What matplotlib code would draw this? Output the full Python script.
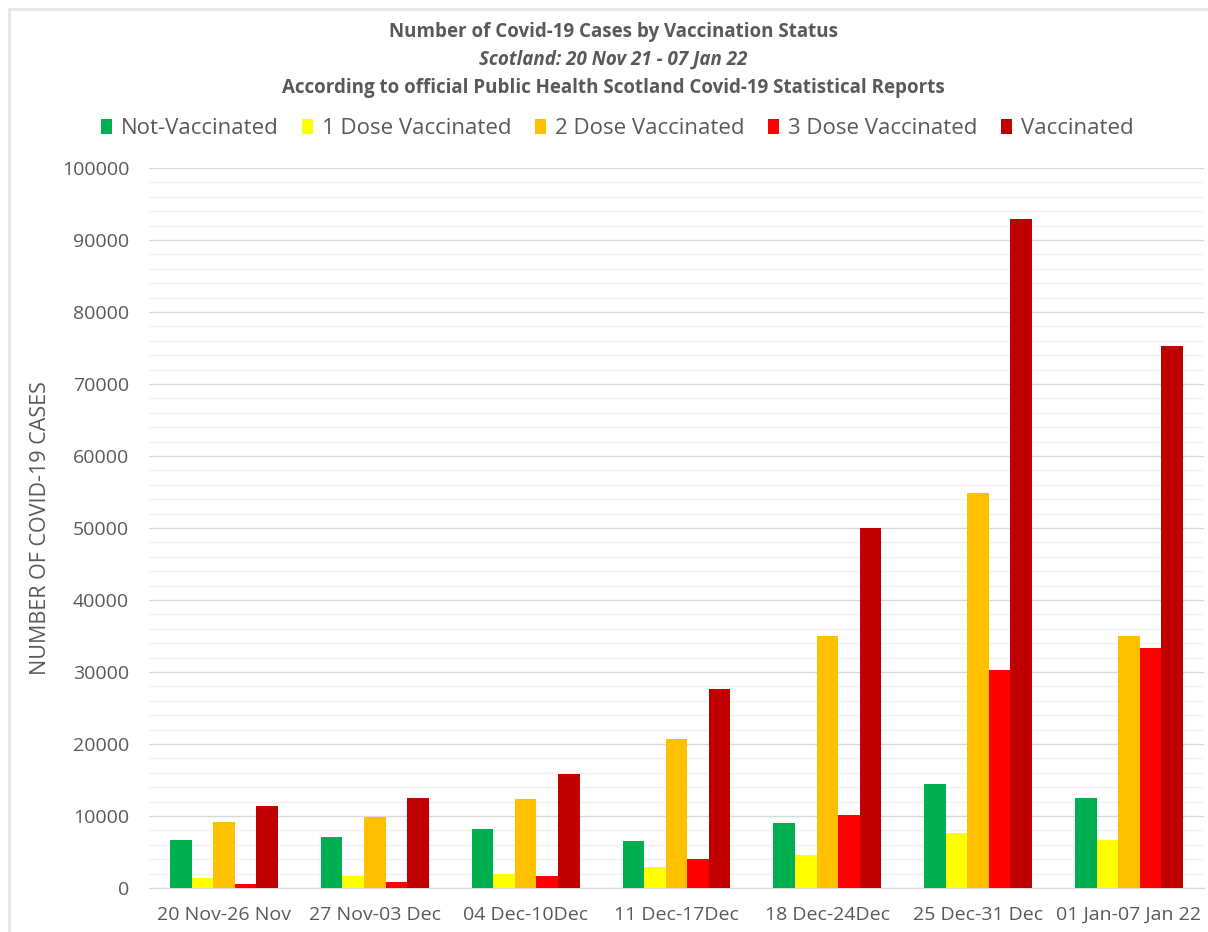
import numpy as np
import matplotlib.pyplot as plt
from matplotlib.ticker import MultipleLocator
from matplotlib.lines import Line2D

weeks = ['20 Nov-26 Nov', '27 Nov-03 Dec', '04 Dec-10Dec', '11 Dec-17Dec',
         '18 Dec-24Dec', '25 Dec-31 Dec', '01 Jan-07 Jan 22']
not_vacc = [6600, 7100, 8200, 6500, 9000, 14400, 12500]
dose1 = [1400, 1700, 1900, 2900, 4600, 7600, 6700]
dose2 = [9200, 9900, 12400, 20700, 35000, 54800, 35000]
dose3 = [600, 800, 1600, 4000, 10100, 30300, 33300]
vaccinated = [11400, 12500, 15800, 27600, 50000, 92900, 75300]

series = [('Not-Vaccinated', not_vacc, '#00b050'),
          ('1 Dose Vaccinated', dose1, '#ffff00'),
          ('2 Dose Vaccinated', dose2, '#ffc000'),
          ('3 Dose Vaccinated', dose3, '#ff0000'),
          ('Vaccinated', vaccinated, '#c00000')]

txt = '#595959'
plt.rcParams['font.family'] = ['Open Sans', 'DejaVu Sans']

fig = plt.figure(figsize=(12.08, 9.32), dpi=100)
ax = fig.add_axes([0.123, 0.0472, 0.874, 0.7725])

x = np.arange(len(weeks))
w = 0.143
for i, (name, vals, col) in enumerate(series):
    ax.bar(x + (i - 2) * w, vals, width=w, color=col, label=name, zorder=3)

ax.set_xlim(-0.5, len(weeks) - 0.5)
ax.set_ylim(0, 100000)
ax.yaxis.set_major_locator(MultipleLocator(10000))
ax.yaxis.set_minor_locator(MultipleLocator(2000))
ax.grid(which='major', axis='y', color='#d9d9d9', linewidth=1, zorder=0)
ax.grid(which='minor', axis='y', color='#f2f2f2', linewidth=1, zorder=0)
ax.set_xticks(x)
ax.set_xticklabels(weeks)
for s in ['top', 'right', 'left']:
    ax.spines[s].set_visible(False)
ax.spines['bottom'].set_color('#d9d9d9')
ax.tick_params(axis='both', which='both', length=0, colors=txt, labelsize=14)
ax.tick_params(axis='y', pad=14)
ax.tick_params(axis='x', pad=13)
ax.set_ylabel('NUMBER OF COVID-19 CASES', color=txt, fontsize=15.5)
ax.yaxis.set_label_coords(-0.092, 0.5)

fig.text(0.5075, 0.966, 'Number of Covid-19 Cases by Vaccination Status',
         ha='center', va='center', fontsize=13.5, fontweight='bold', color=txt)
fig.text(0.5075, 0.936, 'Scotland: 20 Nov 21 - 07 Jan 22',
         ha='center', va='center', fontsize=13.5, fontweight='bold', style='italic', color=txt)
fig.text(0.5075, 0.906, 'According to official Public Health Scotland Covid-19 Statistical Reports',
         ha='center', va='center', fontsize=13.5, fontweight='bold', color=txt)

fig.legend(loc='center', bbox_to_anchor=(0.511, 0.862), ncol=5, frameon=False,
           fontsize=16, labelcolor=txt, handlelength=0.5, handleheight=0.7,
           handletextpad=0.4, columnspacing=1.05)

# faint outer frame at left and top
fx = 9 / 1208
fy = 1 - 9 / 932
fig.add_artist(Line2D([fx, fx], [0, fy], transform=fig.transFigure,
                      color='#e6e6e6', linewidth=2))
fig.add_artist(Line2D([fx, 1], [fy, fy], transform=fig.transFigure,
                      color='#e6e6e6', linewidth=2))

fig.savefig('out.png', dpi=100)
